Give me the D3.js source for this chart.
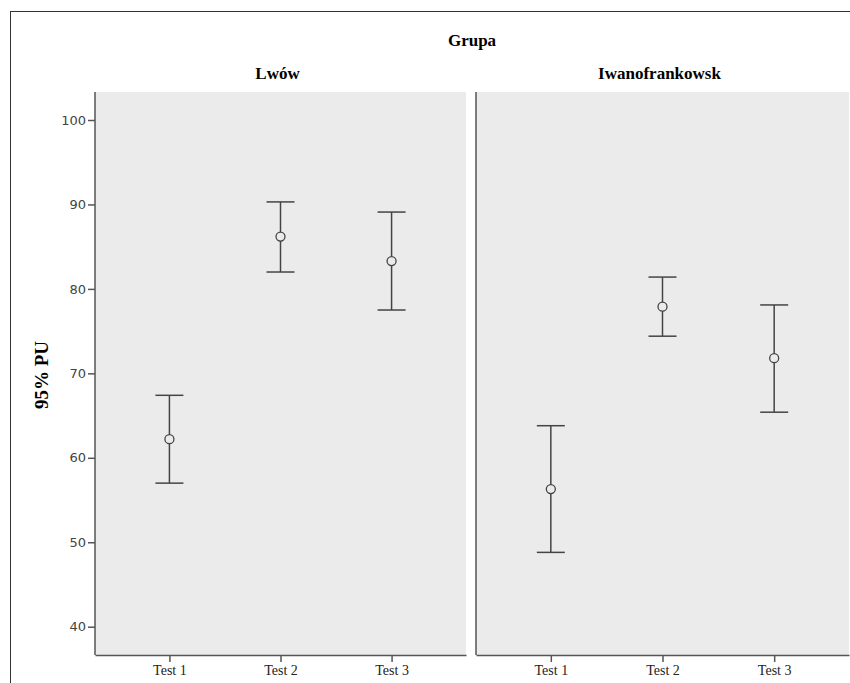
<!DOCTYPE html>
<html>
<head>
<meta charset="utf-8">
<script src="https://cdn.jsdelivr.net/npm/d3@7"></script>
<style>
  body { margin: 0; background: #fff; }
</style>
</head>
<body>
<div id="chart"></div>
<script>
// data
var groups = ["Lwów", "Iwanofrankowsk"];
var tests = ["Test 1", "Test 2", "Test 3"];
var means = [[62.2, 86.2, 83.3], [56.3, 77.9, 71.8]];
var lower = [[57.0, 82.0, 77.5], [48.8, 74.4, 65.4]];
var upper = [[67.4, 90.3, 89.1], [63.8, 81.4, 78.1]];
var yTicks = [40, 50, 60, 70, 80, 90, 100];

var width = 850, height = 683;
var panelTop = 92, panelBottom = 655;
var panels = [{x0: 95, x1: 466}, {x0: 476, x1: 849}];

var svg = d3.select("#chart").append("svg")
    .attr("width", width)
    .attr("height", height);

// outer frame
svg.append("rect")
    .attr("x", 10.5).attr("y", 11.5)
    .attr("width", 900).attr("height", 900)
    .attr("fill", "none")
    .attr("stroke", "#333")
    .attr("stroke-width", 1);

var y = d3.scaleLinear()
    .domain([40, 100])
    .range([626.7, 120]);

svg.append("text")
    .attr("x", 472).attr("y", 46)
    .attr("text-anchor", "middle")
    .style("font-family", "Liberation Serif")
    .style("font-weight", "bold")
    .style("font-size", "17px")
    .text("Grupa");

svg.append("text")
    .attr("transform", "translate(48," + 375 + ") rotate(-90)")
    .attr("text-anchor", "middle")
    .style("font-family", "Liberation Serif")
    .style("font-weight", "bold")
    .style("font-size", "19px")
    .text("95% PU");

panels.forEach(function (p, gi) {
    var x = d3.scalePoint()
        .domain(tests)
        .range([p.x0, p.x1])
        .padding(0.67);

    var g = svg.append("g");

    g.append("rect")
        .attr("x", p.x0).attr("y", panelTop)
        .attr("width", p.x1 - p.x0)
        .attr("height", panelBottom - panelTop)
        .attr("fill", "#ebebeb");

    g.append("text")
        .attr("x", (p.x0 + p.x1) / 2 - 3).attr("y", 79)
        .attr("text-anchor", "middle")
        .style("font-family", "Liberation Serif")
        .style("font-weight", "bold")
        .style("font-size", "17px")
        .text(groups[gi]);

    // x axis
    var xAxis = g.append("g")
        .attr("transform", "translate(0," + panelBottom + ")")
        .call(d3.axisBottom(x).tickSize(7).tickSizeOuter(0).tickPadding(3));
    xAxis.select(".domain").attr("stroke", "#555").attr("stroke-width", 1.5);
    xAxis.selectAll(".tick line").attr("stroke", "#555").attr("stroke-width", 1.5);
    xAxis.selectAll("text")
        .style("font-family", "Liberation Serif")
        .style("font-size", "14px")
        .attr("fill", "#222");

    // left edge of the panel
    g.append("line")
        .attr("x1", p.x0).attr("x2", p.x0)
        .attr("y1", panelTop).attr("y2", panelBottom)
        .attr("stroke", "#555")
        .attr("stroke-width", 1.5);

    if (gi == 0) {
        var yAxis = g.append("g")
            .attr("transform", "translate(" + p.x0 + ",0)")
            .call(d3.axisLeft(y).tickValues(yTicks).tickSize(7).tickPadding(2));
        yAxis.select(".domain").remove();
        yAxis.selectAll(".tick line").attr("stroke", "#555").attr("stroke-width", 1.5);
        yAxis.selectAll("text")
            .style("font-family", "DejaVu Sans")
            .style("font-size", "13px")
            .attr("fill", "#444");
    }

    // error bars
    var bars = g.selectAll(".bar").data(tests).enter().append("g").attr("class", "bar");
    bars.append("line")
        .attr("x1", function (d) { return x(d); })
        .attr("x2", function (d) { return x(d); })
        .attr("y1", function (d, i) { return y(lower[gi][i]); })
        .attr("y2", function (d, i) { return y(upper[gi][i]); });
    bars.append("line")
        .attr("x1", function (d) { return x(d) - 14; })
        .attr("x2", function (d) { return x(d) + 14; })
        .attr("y1", function (d, i) { return y(upper[gi][i]); })
        .attr("y2", function (d, i) { return y(upper[gi][i]); });
    bars.append("line")
        .attr("x1", function (d) { return x(d) - 14; })
        .attr("x2", function (d) { return x(d) + 14; })
        .attr("y1", function (d, i) { return y(lower[gi][i]); })
        .attr("y2", function (d, i) { return y(lower[gi][i]); });
    bars.selectAll("line")
        .attr("stroke", "#444")
        .attr("stroke-width", 1.5);
    bars.append("circle")
        .attr("cx", function (d) { return x(d); })
        .attr("cy", function (d, i) { return y(means[gi][i]); })
        .attr("r", 4.5)
        .attr("fill", "#ebebeb")
        .attr("stroke", "#444")
        .attr("stroke-width", 1.3);
});
</script>
</body>
</html>
